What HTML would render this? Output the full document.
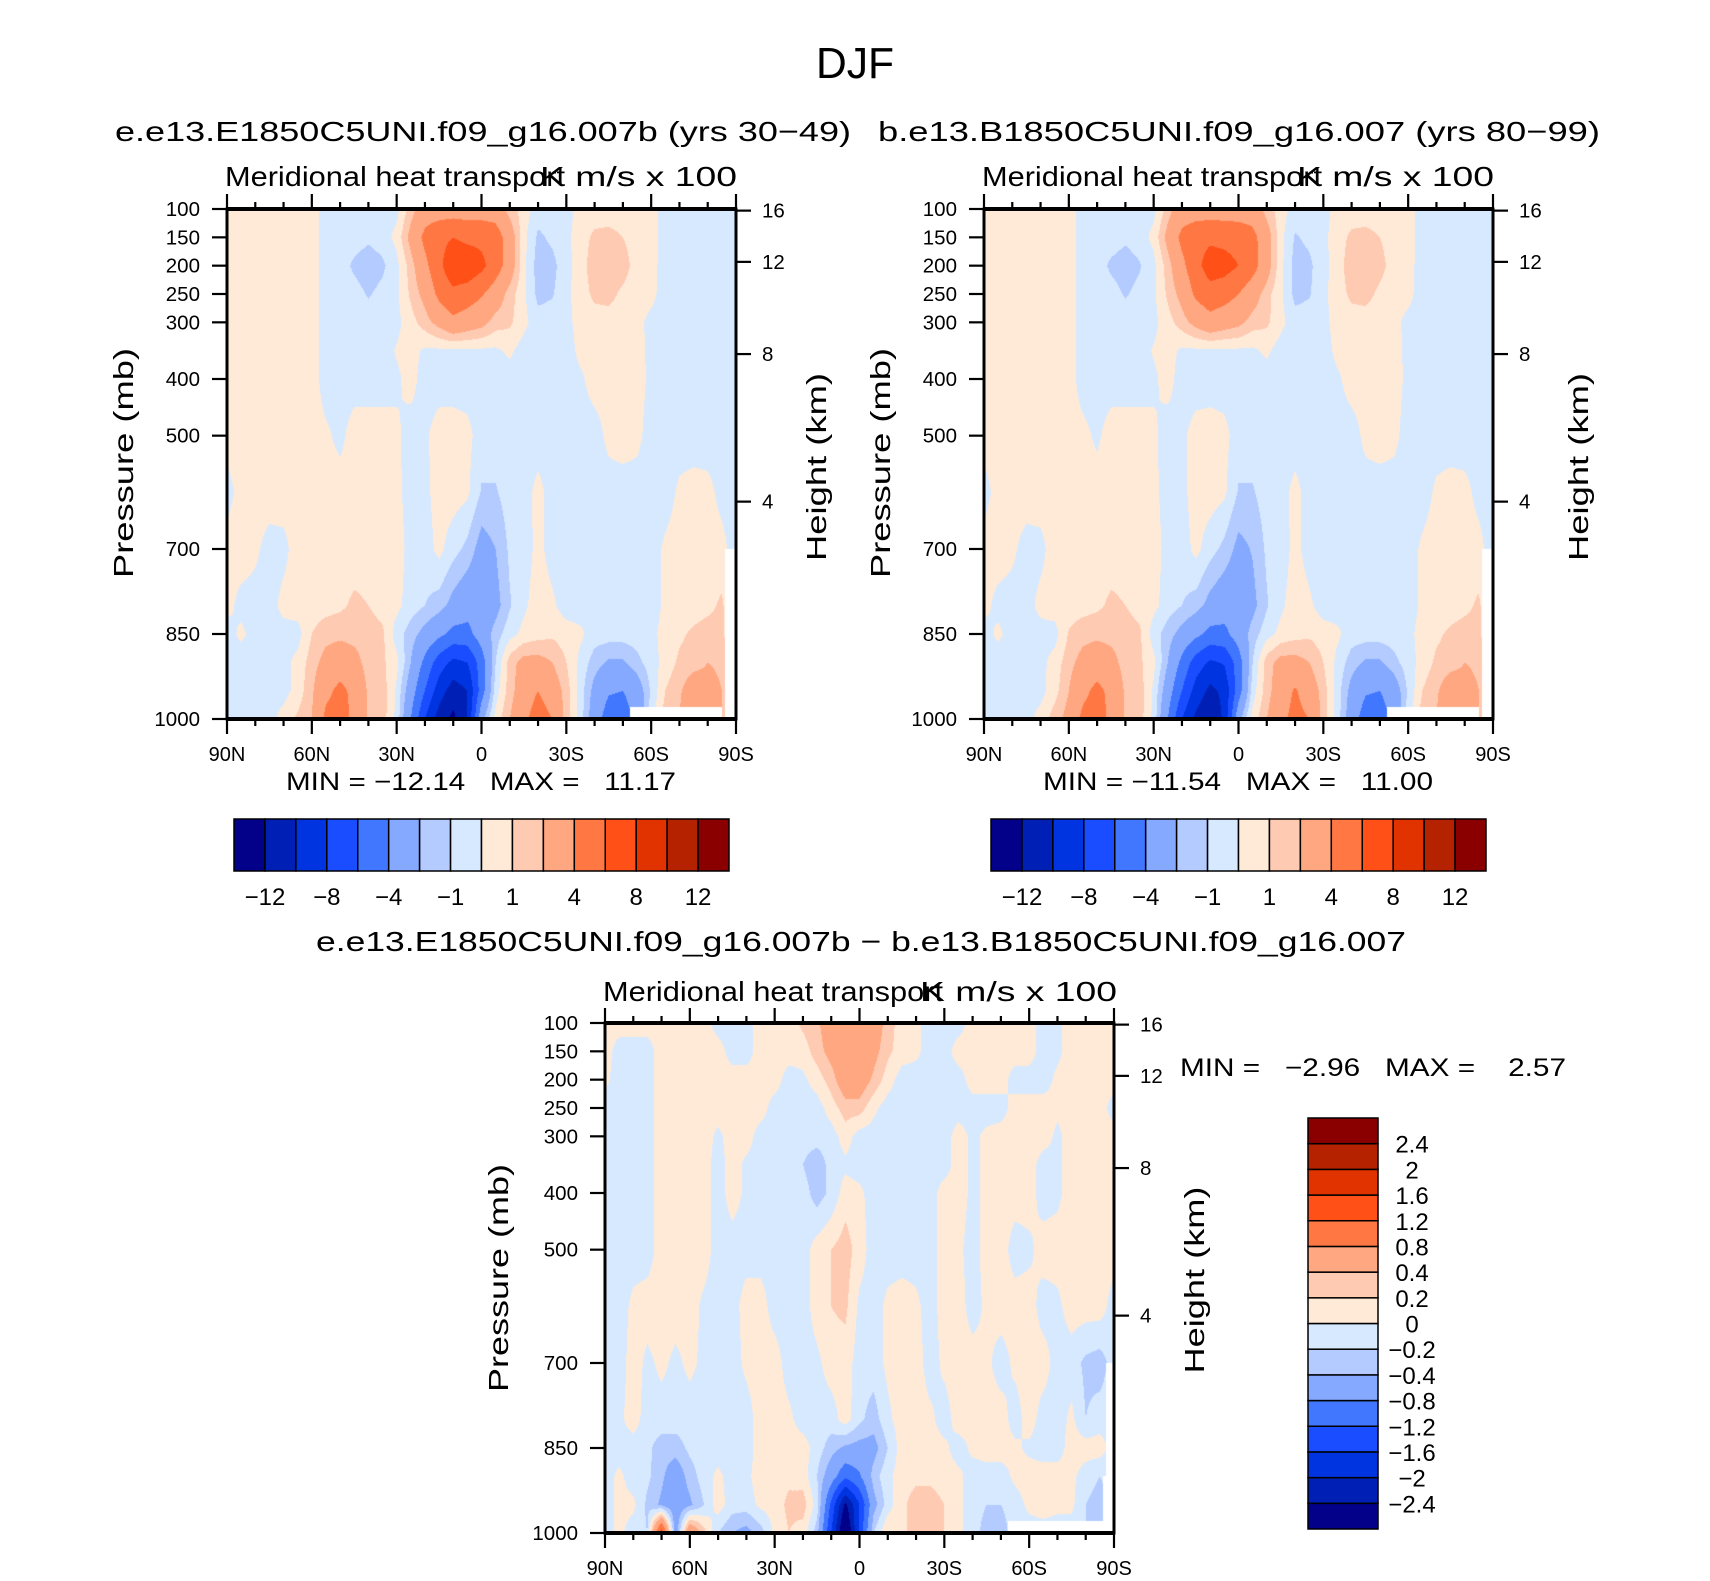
<!DOCTYPE html>
<html><head><meta charset="utf-8"><title>DJF Meridional heat transport</title>
<style>
html,body{margin:0;padding:0;background:#fff;}
#page{position:relative;width:1710px;height:1581px;overflow:hidden;background:#fff;font-family:"Liberation Sans",sans-serif;}
canvas{position:absolute;}
#overlay{position:absolute;left:0;top:0;}
text{font-family:"Liberation Sans",sans-serif;fill:#000;white-space:pre;}
</style></head>
<body>
<div id="page">
<canvas id="c1"></canvas>
<canvas id="c2"></canvas>
<canvas id="c3"></canvas>
<svg id="overlay" width="1710" height="1581" xmlns="http://www.w3.org/2000/svg">
<text x="855" y="78" font-size="44" text-anchor="middle" textLength="78" lengthAdjust="spacingAndGlyphs">DJF</text>
<text x="115" y="141" font-size="28" textLength="736" lengthAdjust="spacingAndGlyphs">e.e13.E1850C5UNI.f09_g16.007b (yrs 30−49)</text>
<text x="878" y="141" font-size="28" textLength="722" lengthAdjust="spacingAndGlyphs">b.e13.B1850C5UNI.f09_g16.007 (yrs 80−99)</text>
<text x="316" y="951" font-size="28" textLength="1090" lengthAdjust="spacingAndGlyphs">e.e13.E1850C5UNI.f09_g16.007b − b.e13.B1850C5UNI.f09_g16.007</text>

<text x="225" y="186" font-size="28" textLength="340" lengthAdjust="spacingAndGlyphs">Meridional heat transport</text>
<text x="540" y="186" font-size="28" textLength="197" lengthAdjust="spacingAndGlyphs">K m/s x 100</text>
<text x="982" y="186" font-size="28" textLength="340" lengthAdjust="spacingAndGlyphs">Meridional heat transport</text>
<text x="1297" y="186" font-size="28" textLength="197" lengthAdjust="spacingAndGlyphs">K m/s x 100</text>
<text x="603" y="1001" font-size="28" textLength="340" lengthAdjust="spacingAndGlyphs">Meridional heat transport</text>
<text x="920" y="1001" font-size="28" textLength="197" lengthAdjust="spacingAndGlyphs">K m/s x 100</text>

<text transform="translate(133,463) rotate(-90)" font-size="28" text-anchor="middle" textLength="230" lengthAdjust="spacingAndGlyphs">Pressure (mb)</text>
<text transform="translate(826,467) rotate(-90)" font-size="28" text-anchor="middle" textLength="188" lengthAdjust="spacingAndGlyphs">Height (km)</text>
<text transform="translate(890,463) rotate(-90)" font-size="28" text-anchor="middle" textLength="230" lengthAdjust="spacingAndGlyphs">Pressure (mb)</text>
<text transform="translate(1588,467) rotate(-90)" font-size="28" text-anchor="middle" textLength="188" lengthAdjust="spacingAndGlyphs">Height (km)</text>
<text transform="translate(508,1278) rotate(-90)" font-size="28" text-anchor="middle" textLength="228" lengthAdjust="spacingAndGlyphs">Pressure (mb)</text>
<text transform="translate(1204,1280) rotate(-90)" font-size="28" text-anchor="middle" textLength="187" lengthAdjust="spacingAndGlyphs">Height (km)</text>

<text x="286" y="790" font-size="25" textLength="390" lengthAdjust="spacingAndGlyphs">MIN = −12.14   MAX =   11.17</text>
<text x="1043" y="790" font-size="25" textLength="390" lengthAdjust="spacingAndGlyphs">MIN = −11.54   MAX =   11.00</text>
<text x="1180" y="1076" font-size="25" textLength="386" lengthAdjust="spacingAndGlyphs">MIN =   −2.96   MAX =    2.57</text>
<g id="axes"></g>
</svg>
</div>
<script>
// ---- data ----
const latGrid = [90,85,80,75,70,65,60,55,50,45,40,35,30,25,20,15,10,5,0,-5,-10,-15,-20,-25,-30,-35,-40,-45,-50,-55,-60,-65,-70,-75,-80,-85,-90];
const pGrid = [100,150,200,250,300,350,400,500,600,700,800,850,900,950,1000];
const levelsMain = [-12,-10,-8,-6,-4,-2,-1,0,1,2,4,6,8,10,12];
const levelsDiff = [-2.4,-2,-1.6,-1.2,-0.8,-0.4,-0.2,0,0.2,0.4,0.8,1.2,1.6,2,2.4];
const palette = ["#03008a","#0020b5","#0034e0","#1a4dff","#4176ff","#84a9ff","#b3cbff","#d7e9ff","#ffead8","#ffcab2","#ffa780","#ff7844","#ff5018","#e03300","#b52200","#8a0000"];
const latTicks = [90,60,30,0,-30,-60,-90];
const latTickLabels = ["90N","60N","30N","0","30S","60S","90S"];
const pTicks = [100,150,200,250,300,400,500,700,850,1000];
const heightTicks = [4,8,12,16];
const mainBarLabels = ["−12","−8","−4","−1","1","4","8","12"];
const mainBarLabelIdx = [0,2,4,6,8,10,12,14];
const diffBarLabels = ["−2.4","−2","−1.6","−1.2","−0.8","−0.4","−0.2","0","0.2","0.4","0.8","1.2","1.6","2","2.4"];

const field1 = [
[.5,.5,.5,.5,.5,.5,.5,-.5,-.5,-.5,-.5,-.5,-.3,1.5,3,3,3,3,3,3,1.5,.5,-.5,-.5,-.5,.5,.5,.5,.5,.5,.5,-.5,-.5,-.5,-.5,-.5,-.5],
[.5,.5,.5,.5,.5,.5,.5,-.5,-.5,-.5,-.8,-.5,.3,2.5,4.5,5.5,6,5.5,5.5,5,3,.3,-1.2,-.8,-.3,.6,1.2,1.3,1,.6,.5,-.5,-.5,-.5,-.5,-.5,-.5],
[.5,.5,.5,.5,.5,.5,.5,-.5,-.5,-1.2,-1.6,-1.2,-.3,1.5,3.5,5.5,7.5,7.5,6.5,5,3,.3,-1.5,-1.3,-.4,.6,1.5,1.6,1.4,.6,.4,-.5,-.5,-.5,-.5,-.5,-.5],
[.5,.5,.5,.5,.5,.5,.5,-.5,-.5,-.6,-1.1,-.7,-.2,1.2,2.5,4.5,5.5,5,4.2,3,1.5,.2,-1.3,-1.1,-.3,.6,1.2,1.3,.8,.5,.3,-.5,-.5,-.5,-.5,-.5,-.5],
[.5,.5,.5,.5,.5,.5,.5,-.5,-.5,-.5,-.5,-.5,-.3,.6,1.5,2.5,3.5,3,2.5,1.5,1.2,.3,-.6,-.5,-.3,.4,.6,.6,.5,.3,-.3,-.5,-.5,-.5,-.5,-.5,-.5],
[.5,.5,.5,.5,.5,.5,.5,-.5,-.5,-.5,-.5,-.5,.1,.4,-.2,-.2,-.2,-.2,-.2,-.2,.2,-.5,-.5,-.5,-.5,.3,.5,.5,.5,.4,-.3,-.5,-.5,-.5,-.5,-.5,-.5],
[.5,.5,.5,.5,.5,.5,.5,-.5,-.5,-.5,-.5,-.5,-.2,.4,-.5,-.5,-.5,-.5,-.5,-.5,-.5,-.5,-.5,-.5,-.5,-.2,.5,.5,.5,.5,-.3,-.5,-.5,-.5,-.5,-.5,-.5],
[.3,.5,.5,.5,.5,.5,.5,.2,-.3,.5,.5,.5,.2,-.5,-.2,.5,.5,.3,-.5,-.5,-.5,-.5,-.5,-.5,-.5,-.5,-.5,.3,.5,.3,-.5,-.5,-.5,-.5,-.5,-.5,-.5],
[-.3,.3,.5,.5,.5,.5,.5,.5,.5,.5,.5,.5,.3,-.5,-.3,.5,.5,.2,-1.1,-1.1,-.5,-.4,.3,-.4,-.5,-.5,-.5,-.5,-.5,-.5,-.5,-.5,.2,.4,.3,-.3,-.5],
[.3,.5,.2,-.4,-.3,.5,.5,.5,.5,.5,.5,.5,.5,-.4,-.5,.3,-.6,-1.3,-2.6,-2,-.8,-.5,.3,-.4,-.5,-.5,-.5,-.5,-.5,-.5,-.5,.2,.5,.5,.4,.3,-.5],
[.3,-.3,-.4,-.4,.3,.5,.5,.6,.8,1.2,1,.6,.3,-.5,-1,-1.5,-2.5,-3.2,-3.3,-2.5,-1.1,-.2,.5,.2,-.5,-.5,-.5,-.5,-.5,-.5,-.5,.2,.5,.5,.7,1.2,-.5],
[-.4,.2,-.4,-.4,-.4,-.4,1,1.6,1.7,1.6,1.5,1.2,-.5,-1.5,-2.5,-3.5,-4.6,-4.6,-3,-1.5,-.4,.3,.6,.8,.5,.2,-.5,-.5,-.5,-.5,-.3,.4,.8,1.2,1.5,1.3,-.5],
[-.3,-.5,-.4,-.5,-.3,.3,1.5,2.5,3,2.5,1.5,1.2,.3,-2,-4.5,-7,-8.5,-8,-5,-1,1.5,2.5,2.5,2,1,-.3,-1.5,-2.2,-2.2,-1.3,-.5,.4,1.2,1.5,2,1.8,-.5],
[-.3,-.5,-.5,-.3,-.4,.4,1.8,3.5,4.5,3.5,1.8,1.5,-.2,-3,-6,-9,-11,-10,-5,-.5,1.5,3,4,3,1.5,-.5,-2.5,-3.8,-4,-3,-.8,1,1.8,3,2.5,2,-.5],
[-.4,-.3,-.5,-.4,.4,1.2,2,4.5,5,3.5,1.8,1.5,-.3,-4,-8,-11,-12.5,-10,-2.5,.4,2,3.5,5,4,1.5,-.5,-3,-5,-5,-3.5,-.5,1.5,2,4,3,2,-.5]
];
const field2 = [
[.5,.5,.5,.5,.5,.5,.5,-.5,-.5,-.5,-.5,-.5,-.3,1.5,3,3,3,3,3,3,1.5,.5,-.5,-.5,-.5,.5,.5,.5,.5,.5,.5,-.5,-.5,-.5,-.5,-.5,-.5],
[.5,.5,.5,.5,.5,.5,.5,-.5,-.5,-.5,-.8,-.5,.3,2.5,4.5,5.3,5.6,5.4,5.2,4.6,2.8,.3,-1.1,-.8,-.3,.6,1.2,1.3,1,.6,.5,-.5,-.5,-.5,-.5,-.5,-.5],
[.5,.5,.5,.5,.5,.5,.5,-.5,-.5,-1.2,-1.5,-1.1,-.3,1.5,3.5,5.4,7,6.8,6,4.8,2.8,.3,-1.4,-1.2,-.4,.6,1.5,1.6,1.3,.6,.4,-.5,-.5,-.5,-.5,-.5,-.5],
[.5,.5,.5,.5,.5,.5,.5,-.5,-.5,-.6,-1.1,-.7,-.2,1.2,2.5,4.4,5.2,4.8,4,2.8,1.4,.2,-1.3,-1.1,-.3,.6,1.2,1.3,.8,.5,.3,-.5,-.5,-.5,-.5,-.5,-.5],
[.5,.5,.5,.5,.5,.5,.5,-.5,-.5,-.5,-.5,-.5,-.3,.6,1.5,2.5,3.3,2.8,2.4,1.5,1.2,.3,-.6,-.5,-.3,.4,.6,.6,.5,.3,-.3,-.5,-.5,-.5,-.5,-.5,-.5],
[.5,.5,.5,.5,.5,.5,.5,-.5,-.5,-.5,-.5,-.5,.1,.4,-.2,-.2,-.2,-.2,-.2,-.2,.2,-.5,-.5,-.5,-.5,.3,.5,.5,.5,.4,-.3,-.5,-.5,-.5,-.5,-.5,-.5],
[.5,.5,.5,.5,.5,.5,.5,-.5,-.5,-.5,-.5,-.5,-.2,.4,-.5,-.5,-.5,-.5,-.5,-.5,-.5,-.5,-.5,-.5,-.5,-.2,.5,.5,.5,.5,-.3,-.5,-.5,-.5,-.5,-.5,-.5],
[.3,.5,.5,.5,.5,.5,.5,.3,-.2,.5,.5,.5,.2,-.5,-.2,.4,.5,.3,-.5,-.5,-.5,-.5,-.5,-.5,-.5,-.5,-.5,.3,.5,.3,-.5,-.5,-.5,-.5,-.5,-.5,-.5],
[-.3,.3,.5,.5,.5,.5,.5,.5,.5,.5,.5,.5,.3,-.5,-.3,.5,.5,.2,-1.1,-1.1,-.5,-.4,.3,-.4,-.5,-.5,-.5,-.5,-.5,-.5,-.5,-.5,.2,.4,.3,-.3,-.5],
[.3,.5,.2,-.4,-.3,.5,.5,.5,.5,.5,.5,.5,.5,-.4,-.5,.3,-.6,-1.3,-2.4,-1.9,-.8,-.5,.3,-.4,-.5,-.5,-.5,-.5,-.5,-.5,-.5,.2,.5,.5,.4,.3,-.5],
[.3,-.3,-.4,-.4,.3,.5,.5,.6,.8,1.2,1,.6,.3,-.5,-1,-1.5,-2.5,-3.1,-3.2,-2.4,-1.1,-.2,.5,.2,-.5,-.5,-.5,-.5,-.5,-.5,-.5,.2,.5,.5,.7,1.2,-.5],
[-.4,.2,-.4,-.4,-.4,-.4,1.1,1.6,1.7,1.6,1.5,1.2,-.5,-1.5,-2.5,-3.5,-4.6,-4.5,-3,-1.5,-.4,.3,.6,.8,.5,.2,-.5,-.5,-.5,-.5,-.3,.4,.8,1.2,1.5,1.3,-.5],
[-.3,-.5,-.4,-.5,-.3,.4,1.6,2.5,3,2.5,1.5,1.2,.3,-2,-4.5,-7,-8.3,-7.8,-5,-1,1.5,2.5,2.5,2,1,-.3,-1.5,-2.2,-2.2,-1.3,-.5,.4,1.2,1.5,2,1.8,-.5],
[-.3,-.5,-.5,-.3,-.4,.6,2,3.5,4.5,3.5,1.8,1.5,-.2,-3,-6,-8.8,-10.5,-9.5,-5,-.5,1.5,3,4.2,3,1.5,-.5,-2.5,-3.8,-4,-3,-.8,1,1.8,3,2.5,2,-.5],
[-.4,-.3,-.5,-.4,.4,1.5,2.5,4.5,5,3.5,1.8,1.5,-.3,-4,-8,-10.5,-12.2,-9.5,-2.5,.4,2,3.5,4.6,4,1.5,-.5,-3,-5,-5,-3.5,-.5,1.5,2,4,3,2,-.5]
];
const field3 = [
[.1,.1,.1,.1,.1,.1,.1,.1,-.1,-.1,-.1,.1,.1,.1,.25,.35,.6,.6,.6,.6,.3,.1,.05,-.1,-.1,-.1,.1,.1,.1,.1,.1,-.1,-.05,.1,.1,.1,.1],
[.1,-.1,-.1,-.1,.1,.1,.1,.1,.1,-.1,-.1,.1,.1,.1,.1,.3,.5,.6,.6,.5,.25,.1,.05,-.1,-.1,.1,.1,.1,.1,.1,.1,-.1,-.05,.1,.1,.1,.1],
[.05,-.1,-.1,-.1,.1,.1,.1,.1,.1,.1,.1,.1,.1,-.1,-.05,.1,.3,.6,.6,.35,.1,-.1,-.1,-.1,-.1,-.1,.1,.1,.1,-.1,-.1,-.1,.05,.1,.1,.1,.1],
[-.1,-.1,-.1,-.1,.1,.1,.1,.1,.1,.1,.1,.1,-.1,-.1,-.1,-.1,.1,.3,.3,.05,-.1,-.1,-.1,-.1,-.1,-.1,-.1,-.1,-.1,.1,.1,.1,.05,.1,.1,.1,-.1],
[-.1,-.1,-.1,-.1,.1,.1,.1,.1,-.05,.1,.1,-.1,-.1,-.1,-.1,-.1,-.1,.1,-.1,-.1,-.1,-.1,-.1,-.1,-.1,.1,-.05,.05,.1,.1,.1,.1,-.05,.1,.1,.1,.1],
[-.1,-.1,-.1,-.1,.1,.1,.1,.1,-.1,.1,-.05,-.1,-.1,-.1,-.2,-.35,-.1,-.05,-.1,-.1,-.1,-.1,-.1,-.1,-.1,.1,-.05,.05,.1,.1,.1,-.1,-.05,.1,.1,.1,.1],
[-.1,-.1,-.1,-.1,.1,.1,.1,.1,-.1,.1,-.05,-.1,-.1,-.1,-.1,-.3,-.15,.1,.05,-.1,-.1,-.1,-.1,-.1,.1,.1,-.05,.05,.1,.1,.1,-.1,-.05,.1,.1,.1,.1],
[-.1,-.1,-.1,-.1,.1,.1,.1,.1,-.1,-.1,-.1,-.1,-.1,-.1,-.1,.1,.2,.3,.1,-.1,-.1,-.1,-.1,-.1,.1,.05,-.1,.1,.1,-.1,-.05,.1,.1,.1,.1,.1,.1],
[-.1,-.1,.05,.1,.1,.1,.1,-.05,-.1,-.1,.1,.1,-.1,-.1,-.1,.1,.2,.25,-.05,-.1,.05,.1,.05,-.1,.1,.1,-.1,.05,.1,.1,.1,-.1,-.05,.1,.1,.1,-.1],
[-.1,-.1,.1,-.05,.05,-.05,.05,-.05,-.1,-.1,.05,.1,.1,-.1,-.1,-.05,.1,.1,-.1,-.1,.05,.1,.1,-.1,.05,.1,.1,.05,-.1,.05,.1,.1,-.1,-.1,-.25,-.3,-.1],
[-.1,-.05,.1,-.1,-.1,-.1,-.1,-.1,-.1,-.1,-.1,.1,.1,.05,-.1,-.1,-.1,.1,-.15,-.3,-.05,.1,.1,.05,-.1,.1,.1,.1,.1,-.1,.1,-.1,-.1,.05,-.2,-.1,-.1],
[-.1,-.1,-.1,-.15,-.3,-.3,-.15,-.1,-.1,-.1,-.1,.1,.1,.1,.1,-.1,-.3,-.45,-.5,-.5,-.2,.1,.1,.1,.05,-.1,.05,.1,.1,.05,-.05,-.1,-.1,.1,.1,.1,-.1],
[-.1,.05,-.1,-.15,-.35,-.6,-.3,-.1,.05,-.1,-.05,.1,.1,.15,.1,-.2,-.6,-1.1,-.85,-.3,-.05,.1,.15,.15,.1,.05,-.1,-.1,-.1,.05,.1,.1,.1,.05,-.1,-.2,-.1],
[-.1,.05,.05,-.25,-.45,-.6,-.45,-.2,.1,-.1,-.1,.05,.1,.25,.3,-.1,-1.3,-2.5,-1.6,-.5,-.1,.15,.3,.3,.2,.05,-.1,-.2,-.2,-.1,.05,.1,.05,.05,-.2,-.3,-.1],
[-.1,.05,-.1,-.2,1.5,-.6,.8,.3,-.2,-.4,-.5,-.3,.05,.2,.1,-.3,-1.6,-3,-1.5,-.2,.2,.15,.3,.4,.2,.05,-.1,-.3,-.3,-.1,-.1,-.1,-.1,-.1,-.2,-.3,-.1]
];
// missing-data regions: [latFrom, latTo, pFrom, pTo]
const missing1 = [[-52.5,-85,978,1000],[-86,-90,700,1000]];
const missing2 = [[-52.5,-85,978,1000],[-86,-90,700,1000]];
const missing3 = [[-52.5,-87,979,1000],[-87,-90,700,1000],[-86,-90,900,1000]];

// ---- geometry ----
const panels = [
 {id:'c1', key:'left', x:227, y:209, w:509, h:510, field:field1, levels:levelsMain, missing:missing1},
 {id:'c2', key:'right', x:984, y:209, w:509, h:510, field:field2, levels:levelsMain, missing:missing2},
 {id:'c3', key:'difference', x:605, y:1023, w:509, h:510, field:field3, levels:levelsDiff, missing:missing3}
];
function xScale(P, lat){ return P.x + (90 - lat) / 180 * P.w; }
function yScale(P, p){ return P.y + (p - 100) / 900 * P.h; }
function heightToP(km){
  const z = km*1000;
  if (z <= 11000) return 1013.25*Math.pow(1 - 2.25577e-5*z, 5.25588);
  return 226.32*Math.exp(-(z-11000)/6341.6);
}
function hexRgb(h){ return [parseInt(h.substr(1,2),16),parseInt(h.substr(3,2),16),parseInt(h.substr(5,2),16)]; }
const rgbPal = palette.map(hexRgb);

function sample(field, lat, p){
  let ci = (90 - lat) / 5; ci = Math.max(0, Math.min(latGrid.length-1.0001, ci));
  const i0 = Math.floor(ci), tx = ci - i0;
  let k = 0; while (k < pGrid.length-2 && p > pGrid[k+1]) k++;
  let ty = (p - pGrid[k]) / (pGrid[k+1] - pGrid[k]); ty = Math.max(0, Math.min(1, ty));
  const a = field[k][i0], b = field[k][i0+1], c = field[k+1][i0], d = field[k+1][i0+1];
  return (a*(1-tx)+b*tx)*(1-ty) + (c*(1-tx)+d*tx)*ty;
}
function drawField(P){
  const cv = document.getElementById(P.id);
  cv.width = P.w; cv.height = P.h;
  cv.style.left = P.x + 'px'; cv.style.top = P.y + 'px';
  const ctx = cv.getContext('2d');
  const img = ctx.createImageData(P.w, P.h);
  for (let py = 0; py < P.h; py++){
    const p = 100 + (py + 0.5) / P.h * 900;
    for (let px = 0; px < P.w; px++){
      const lat = 90 - (px + 0.5) / P.w * 180;
      let col = null;
      for (const m of P.missing){
        if (lat <= m[0] && lat >= m[1] && p >= m[2] && p <= m[3]) { col = [255,255,255]; break; }
      }
      if (!col){
        const v = sample(P.field, lat, p);
        let idx = 0; while (idx < P.levels.length && v >= P.levels[idx]) idx++;
        col = rgbPal[idx];
      }
      const o = (py * P.w + px) * 4;
      img.data[o] = col[0]; img.data[o+1] = col[1]; img.data[o+2] = col[2]; img.data[o+3] = 255;
    }
  }
  ctx.putImageData(img, 0, 0);
}

const NS = 'http://www.w3.org/2000/svg';
const axes = document.getElementById('axes');
function mk(tag, attrs){
  const e = document.createElementNS(NS, tag);
  for (const k in attrs) e.setAttribute(k, attrs[k]);
  axes.appendChild(e);
  return e;
}
function line(x1,y1,x2,y2,w){ return mk('line',{x1:x1,y1:y1,x2:x2,y2:y2,stroke:'#000','stroke-width':w}); }
function label(x,y,s,size,anchor){ const t = mk('text',{x:x,y:y,'font-size':size,'text-anchor':anchor}); t.textContent = s; return t; }

function drawAxes(P){
  const x0 = P.x, x1 = P.x + P.w, y0 = P.y, y1 = P.y + P.h;
  for (let lat = 90; lat >= -90; lat -= 10){
    const X = xScale(P, lat);
    const major = latTicks.indexOf(lat) >= 0;
    const len = major ? 15 : 7;
    const tt = line(X, y0, X, y0 - len, 2.2);
    
    
    const tb = line(X, y1, X, y1 + len, 2.2);
    
    
  }
  latTicks.forEach((lat, i) => {
    const t = label(xScale(P, lat), y1 + 42, latTickLabels[i], 20, 'middle');
    
    
  });
  pTicks.forEach(p => {
    const Y = yScale(P, p);
    const tk = line(x0, Y, x0 - 15, Y, 2.2);
    
    
    const t = label(x0 - 27, Y + 7, String(p), 20.5, 'end');
    
    
  });
  heightTicks.forEach(hk => {
    const Y = yScale(P, heightToP(hk));
    const tk = line(x1, Y, x1 + 15, Y, 2.2);
    
    
    const t = label(x1 + 26, Y + 7, String(hk), 20.5, 'start');
    
    
  });
  const fr = mk('rect',{x:x0, y:y0, width:P.w, height:P.h, fill:'none', stroke:'#000', 'stroke-width':3});
  
  
  const tl = line(x0-1, y0, x1+1, y0, 4);
  
  
  const bl = line(x0-1, y1, x1+1, y1, 4);
  
  
}

function drawHBar(bx, by, bw, bh, key){
  const cw = bw / palette.length;
  palette.forEach((c, i) => {
    const r = mk('rect',{x:bx + i*cw, y:by, width:cw, height:bh, fill:c, stroke:'#000', 'stroke-width':1.5});
    
    
  });
  mainBarLabels.forEach((s, i) => {
    const t = label(bx + (mainBarLabelIdx[i] + 1) * cw, by + bh + 34, s, 24, 'middle');
    
    
  });
}
function drawVBar(bx, by, bw, bh, key){
  const ch = bh / palette.length;
  palette.forEach((c, i) => {
    const r = mk('rect',{x:bx, y:by + (palette.length-1-i)*ch, width:bw, height:ch, fill:c, stroke:'#000', 'stroke-width':1.5});
    
    
  });
  diffBarLabels.forEach((s, i) => {
    const Y = by + (palette.length - 1 - i) * ch;
    const t = label(bx + bw + 34, Y + 9, s, 24, 'middle');
    
    
  });
}

panels.forEach(P => { drawField(P); drawAxes(P); });
drawHBar(234, 819, 495, 52, 'left');
drawHBar(991, 819, 495, 52, 'right');
drawVBar(1308, 1118, 70, 411, 'difference');
</script>
</body></html>
